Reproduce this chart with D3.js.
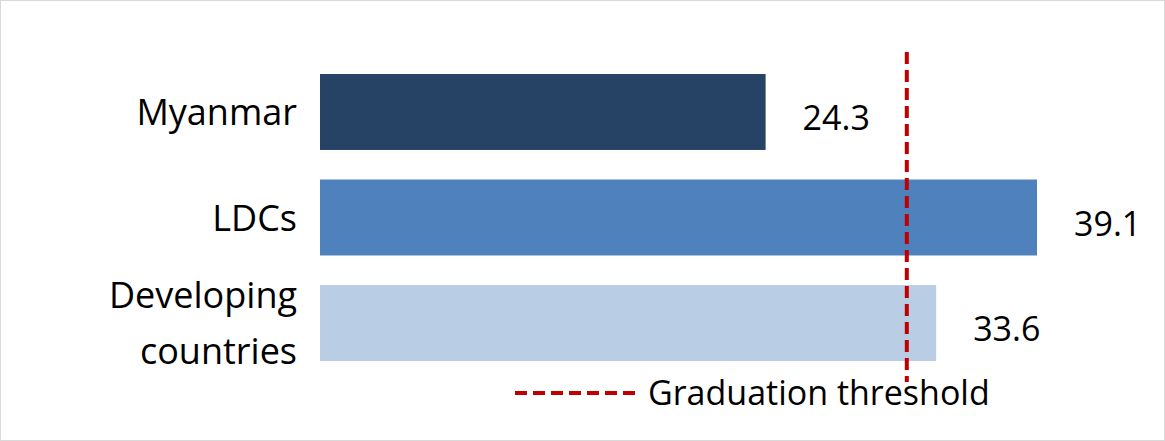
<!DOCTYPE html>
<html><head><meta charset="utf-8">
<script src="https://cdn.jsdelivr.net/npm/d3@7"></script>
<style>body{margin:0;background:#fff}text{font-family:"Open Sans","Liberation Sans",sans-serif;fill:#000}</style>
</head><body><div class="chart"></div>
<script>
const w = 1165, h = 441;
const categories = [["Myanmar"], ["LDCs"], ["Developing", "countries"]];
const values = [24.3, 39.1, 33.6];
const colors = ["#264265", "#4f81bd", "#b9cde5"];
const threshold = 32;
const legendLabel = "Graduation threshold";

const svg = d3.select(".chart").append("svg").attr("width", w).attr("height", h);
svg.append("rect").attr("x", 0.5).attr("y", 0.5).attr("width", w - 1).attr("height", h - 1)
  .attr("fill", "#fff").attr("stroke", "#d9d9d9");

const x = d3.scaleLinear().domain([0, 39.1]).range([320, 1037]);
const y = d3.scaleBand().domain(d3.range(3)).range([74, 361]).paddingInner(0.28).paddingOuter(0);

svg.selectAll(".bar").data(values).enter().append("rect")
  .attr("x", x(0)).attr("y", (d, i) => y(i))
  .attr("width", d => x(d) - x(0)).attr("height", y.bandwidth())
  .attr("fill", (d, i) => colors[i]);

svg.selectAll(".val").data(values).enter().append("text")
  .attr("x", d => x(d) + 37).attr("y", (d, i) => y(i) + y.bandwidth() / 2 + 18)
  .attr("font-size", 34).text(d => d.toFixed(1));

categories.forEach((lines, i) => {
  const t = svg.append("text").attr("text-anchor", "end").attr("font-size", 36);
  const cy = y(i) + y.bandwidth() / 2;
  lines.forEach((l, j) => {
    t.append("tspan").attr("x", 297)
      .attr("y", cy + 13 + (j - (lines.length - 1) / 2) * 56).text(l);
  });
});

svg.append("line").attr("x1", x(threshold)).attr("x2", x(threshold))
  .attr("y1", 52).attr("y2", 382)
  .attr("stroke", "#c00000").attr("stroke-width", 4).attr("stroke-dasharray", "12,6");

svg.append("line").attr("x1", 515).attr("x2", 635).attr("y1", 393).attr("y2", 393)
  .attr("stroke", "#c00000").attr("stroke-width", 4).attr("stroke-dasharray", "12,6");
svg.append("text").attr("x", 648).attr("y", 405).attr("font-size", 34).text(legendLabel);
</script></body></html>
